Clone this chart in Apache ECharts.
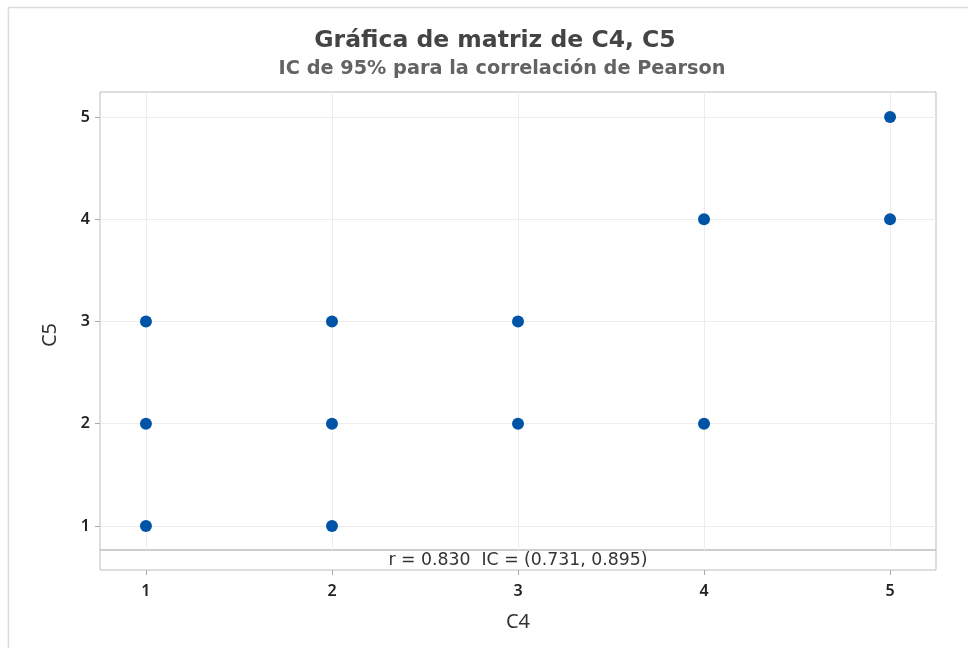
<!DOCTYPE html>
<html>
<head>
<meta charset="utf-8">
<script src="https://cdn.jsdelivr.net/npm/echarts@6/dist/echarts.min.js"></script>
<style>
html,body{margin:0;padding:0;background:#fff;}
#chart{width:968px;height:648px;}
</style>
</head>
<body>
<div id="chart"></div>
<script>
const titleText = 'Gráfica de matriz de C4, C5';
const subtitleText = 'IC de 95% para la correlación de Pearson';
const xName = 'C4';
const yName = 'C5';
const c4Values = [1, 1, 1, 2, 2, 2, 3, 3, 4, 4, 5, 5];
const c5Values = [1, 2, 3, 1, 2, 3, 2, 3, 2, 4, 4, 5];
const xTicks = [1, 2, 3, 4, 5];
const yTicks = [1, 2, 3, 4, 5];
const corrText = 'r = 0.830  IC = (0.731, 0.895)';

const points = c4Values.map((x, i) => [x, c5Values[i]]);
const font = '"Noto Sans", "Open Sans", sans-serif';
const wide = '"DejaVu Sans", "Noto Sans", sans-serif';
const xMin = 0.753, xMax = 5.247;
const yMin = 0.765, yMax = 5.245;

const chart = echarts.init(document.getElementById('chart'));
chart.setOption({
  animation: false,
  backgroundColor: '#fff',
  title: [{
    text: titleText,
    left: 490, top: 24, textAlign: 'center',
    textStyle: {fontFamily: wide, fontSize: 23.5, fontWeight: 'bold', color: '#444'}
  }, {
    text: subtitleText,
    left: 497, top: 54, textAlign: 'center',
    textStyle: {fontFamily: wide, fontSize: 19.3, fontWeight: 'bold', color: '#636363'}
  }],
  graphic: [{
    type: 'rect', silent: true, z: -1,
    shape: {x: 8.5, y: 7.5, width: 1200, height: 1200},
    style: {fill: 'none', stroke: '#dcdcdc', lineWidth: 1.5}
  }, {
    type: 'text', x: 518, y: 561, silent: true,
    style: {text: corrText, textAlign: 'center', textVerticalAlign: 'middle', fontFamily: wide, fontSize: 17.3, fill: '#333'}
  }],
  grid: [{
    left: 100, right: 32, top: 92, height: 458,
    show: true, borderColor: '#bdbdbd', borderWidth: 1, backgroundColor: 'transparent'
  }, {
    left: 100, right: 32, top: 550, height: 20,
    show: true, borderColor: '#bdbdbd', borderWidth: 1, backgroundColor: 'transparent'
  }],
  xAxis: [{
    gridIndex: 0, type: 'value', min: xMin, max: xMax,
    axisLine: {show: false},
    axisTick: {show: false, customValues: xTicks},
    axisLabel: {show: false, customValues: xTicks},
    splitLine: {show: true, lineStyle: {color: '#ececec', width: 1}}
  }, {
    gridIndex: 1, type: 'value', min: xMin, max: xMax,
    name: xName, nameLocation: 'middle', nameGap: 42,
    nameTextStyle: {fontFamily: font, fontSize: 20, color: '#333'},
    axisLine: {show: false},
    axisTick: {show: true, length: 5, customValues: xTicks, lineStyle: {color: '#aaa'}},
    axisLabel: {show: true, customValues: xTicks, margin: 13, fontFamily: font, fontSize: 16, fontWeight: 600, color: '#222'},
    splitLine: {show: false}
  }],
  yAxis: [{
    gridIndex: 0, type: 'value', min: yMin, max: yMax,
    name: yName, nameLocation: 'middle', nameGap: 40, nameRotate: 90,
    nameTextStyle: {fontFamily: font, fontSize: 20, color: '#333', padding: [0, 28, 0, 0]},
    axisLine: {show: false},
    axisTick: {show: true, length: 5, customValues: yTicks, lineStyle: {color: '#aaa'}},
    axisLabel: {show: true, customValues: yTicks, margin: 10, fontFamily: font, fontSize: 16, fontWeight: 600, color: '#222'},
    splitLine: {show: true, lineStyle: {color: '#ececec', width: 1}}
  }, {
    gridIndex: 1, type: 'value', min: 0, max: 1,
    axisLine: {show: false}, axisTick: {show: false}, axisLabel: {show: false}, splitLine: {show: false}
  }],
  series: [{
    type: 'scatter', xAxisIndex: 0, yAxisIndex: 0,
    data: points, symbol: 'circle', symbolSize: 12,
    itemStyle: {color: '#0054a6', opacity: 1}
  }]
});
</script>
</body>
</html>
